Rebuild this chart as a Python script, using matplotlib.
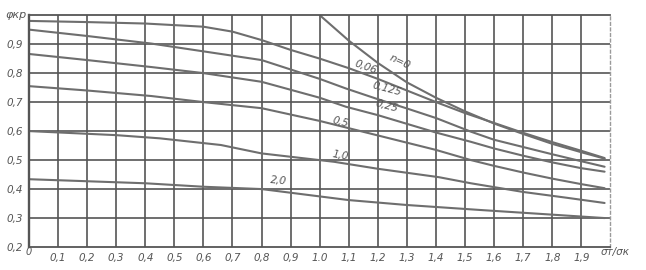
import matplotlib
matplotlib.use("Agg")
import matplotlib.pyplot as plt

# curves phi_kr(sigma_t/sigma_k) for different n
x_n0 = [1.0, 1.1, 1.2, 1.3, 1.4, 1.5, 1.6, 1.7, 1.8, 1.9, 1.98]
y_n0 = [1.0, 0.912, 0.835, 0.768, 0.715, 0.668, 0.626, 0.59, 0.556, 0.527, 0.505]

x_006 = [0.0, 0.2, 0.4, 0.6, 0.7, 0.8, 0.9, 1.0, 1.1, 1.2, 1.3, 1.4, 1.5, 1.6, 1.7, 1.8, 1.9, 1.98]
y_006 = [0.98, 0.976, 0.971, 0.96, 0.943, 0.914, 0.88, 0.85, 0.817, 0.78, 0.74, 0.70, 0.662, 0.628, 0.594, 0.562, 0.532, 0.507]

x_0125 = [0.0, 0.2, 0.42, 0.6, 0.8, 1.0, 1.09, 1.2, 1.3, 1.4, 1.52, 1.6, 1.7, 1.8, 1.9, 1.98]
y_0125 = [0.95, 0.928, 0.902, 0.875, 0.845, 0.78, 0.747, 0.71, 0.678, 0.645, 0.598, 0.57, 0.545, 0.52, 0.496, 0.477]

x_025 = [0.0, 0.2, 0.42, 0.6, 0.8, 1.0, 1.09, 1.2, 1.3, 1.4, 1.52, 1.6, 1.7, 1.8, 1.9, 1.98]
y_025 = [0.866, 0.845, 0.821, 0.80, 0.77, 0.715, 0.684, 0.655, 0.625, 0.595, 0.563, 0.54, 0.515, 0.492, 0.472, 0.46]

x_05 = [0.0, 0.2, 0.42, 0.6, 0.8, 1.0, 1.1, 1.2, 1.3, 1.4, 1.52, 1.6, 1.7, 1.8, 1.9, 1.98]
y_05 = [0.755, 0.74, 0.721, 0.70, 0.679, 0.635, 0.61, 0.585, 0.56, 0.535, 0.50, 0.48, 0.457, 0.436, 0.417, 0.403]

x_10 = [0.0, 0.3, 0.45, 0.66, 0.8, 1.05, 1.2, 1.41, 1.52, 1.7, 1.85, 1.98]
y_10 = [0.60, 0.586, 0.575, 0.552, 0.523, 0.494, 0.47, 0.441, 0.42, 0.39, 0.37, 0.352]

x_20 = [0.0, 0.4, 0.6, 0.8, 1.1, 1.3, 1.55, 1.75, 1.98]
y_20 = [0.434, 0.42, 0.408, 0.40, 0.362, 0.345, 0.328, 0.315, 0.30]

curves = [(x_n0, y_n0), (x_006, y_006), (x_0125, y_0125), (x_025, y_025),
          (x_05, y_05), (x_10, y_10), (x_20, y_20)]

# labels written along the curves: text, x, y, rotation
curve_labels = ["n=0", "0,06", "0,125", "0,25", "0,5", "1,0", "2,0"]
label_x = [1.275, 1.16, 1.23, 1.23, 1.07, 1.07, 0.86]
label_y = [0.838, 0.822, 0.745, 0.685, 0.632, 0.515, 0.428]
label_rot = [-25, -20, -15, -15, -14, -10, -5]

xticks = [0.1, 0.2, 0.3, 0.4, 0.5, 0.6, 0.7, 0.8, 0.9, 1.0, 1.1, 1.2, 1.3, 1.4, 1.5, 1.6, 1.7, 1.8, 1.9]
xtick_labels = ["0,1", "0,2", "0,3", "0,4", "0,5", "0,6", "0,7", "0,8", "0,9", "1.0",
                "1,1", "1,2", "1,3", "1,4", "1,5", "1,6", "1,7", "1,8", "1,9"]
yticks = [0.2, 0.3, 0.4, 0.5, 0.6, 0.7, 0.8, 0.9]
ytick_labels = ["0,2", "0,3", "0,4", "0,5", "0,6", "0,7", "0,8", "0,9"]

grid_c = '#555555'
line_c = '#6e6e6e'
txt_c = '#555555'
fnt = dict(family='DejaVu Sans', style='italic', color=txt_c)

fig = plt.figure(figsize=(6.46, 2.70), dpi=100)
ax = fig.add_axes([0.0449, 0.085, 0.9, 0.859])
ax.set_xlim(0, 2.0)
ax.set_ylim(0.2, 1.0)

for gx in [i / 10 for i in range(1, 20)]:
    ax.axvline(gx, color=grid_c, lw=1.2, zorder=1)
for gy in [i / 10 for i in range(3, 10)]:
    ax.axhline(gy, color=grid_c, lw=1.2, zorder=1)

for xs, ys in curves:
    ax.plot(xs, ys, color=line_c, lw=1.5, zorder=2, solid_capstyle='round')

for t, lx, ly, r in zip(curve_labels, label_x, label_y, label_rot):
    ax.text(lx, ly, t, fontsize=7.5, rotation=r, ha='center', va='center', zorder=3, **fnt)

for s in ['left', 'top', 'bottom']:
    ax.spines[s].set_color(grid_c)
    ax.spines[s].set_linewidth(1.3)
ax.spines['left'].set_linewidth(1.7)
ax.spines['bottom'].set_linestyle((0, (4, 1)))
ax.spines['right'].set_color('#9a9a9a')
ax.spines['right'].set_linestyle((0, (2, 2)))
ax.spines['right'].set_linewidth(1.0)

ax.set_xticks(xticks)
ax.set_xticklabels(xtick_labels)
ax.set_yticks(yticks)
ax.set_yticklabels(ytick_labels)
ax.tick_params(length=0, labelsize=7.5, labelcolor=txt_c, pad=4)
for lab in ax.get_xticklabels() + ax.get_yticklabels():
    lab.set_style('italic')

ax.text(0.0, 0.2, "0", transform=ax.transData, fontsize=7, ha='center', va='top', **fnt)
ax.text(1.965, 0.2, "σт/σк", fontsize=7.5, ha='left', va='top', clip_on=False,
        transform=ax.transData, **fnt)
ax.text(-0.045, 1.0, "φкр", fontsize=8, ha='center', va='center', clip_on=False, **fnt)

fig.savefig("out.png", dpi=100)
